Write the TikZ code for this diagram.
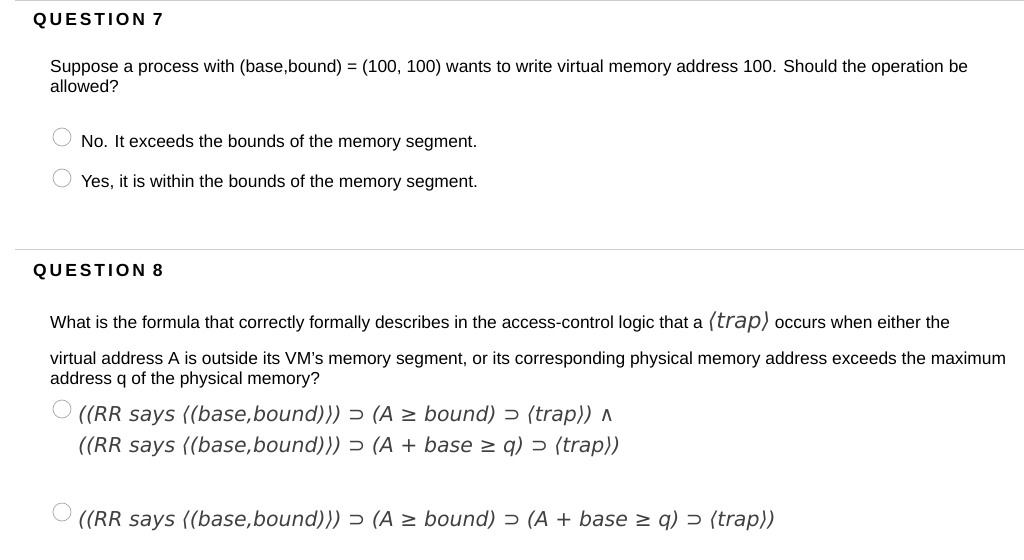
\documentclass[tikz,border=0pt]{standalone}
\usepackage{fontspec}
\setmainfont{Liberation Sans}
\newfontfamily\fml{DejaVu Sans}
\begin{document}
\begin{tikzpicture}[x=1pt,y=-1pt,
  txt/.style={anchor=base west,inner sep=0pt,font=\fontsize{17.4}{20}\selectfont},
  head/.style={anchor=base west,inner sep=0pt,font=\fontsize{17.5}{20}\selectfont\bfseries},
  frm/.style={anchor=base west,inner sep=0pt,font=\fontsize{20.5}{24}\fml\itshape,text=black!75},
  radio/.style={circle,draw=black!35,fill=white,minimum size=18pt,inner sep=0pt,line width=0.7pt}]
\useasboundingbox (0,0) rectangle (1024,559);
\draw[black!20,line width=1pt] (15,1) -- (1024,1);
\draw[black!20,line width=1pt] (15,249) -- (1024,249);
\node[head] (h7) at (33,26) {Q\,U\,E\,S\,T\,I\,O\,N\, 7};
\node[txt] (p1) at (50,73) {Suppose a process with (base,bound) = (100, 100) wants to write virtual memory address 100. Should the operation be};
\node[txt] (p2) at (50,93) {allowed?};
\node[radio] (r1) at (62,137) {};
\node[txt] (o1) at (81,147) {No. It exceeds the bounds of the memory segment.};
\node[radio] (r2) at (62,178) {};
\node[txt] (o2) at (81,187) {Yes, it is within the bounds of the memory segment.};
\node[head] (h8) at (33,276) {Q\,U\,E\,S\,T\,I\,O\,N\, 8};
\node[txt] (q1) at (50,328) {What is the formula that correctly formally describes in the access-control logic that a {\fontsize{22}{26}\fml\itshape\color{black!75}⟨trap⟩} occurs when either the};
\node[txt] (q2) at (50,364) {virtual address A is outside its VM's memory segment, or its corresponding physical memory address exceeds the maximum};
\node[txt] (q3) at (50,384) {address q of the physical memory?};
\node[radio] (r3) at (62,409) {};
\node[frm] (f1) at (78,421) {((RR says ⟨(base,bound)⟩) ⊃ (A ≥ bound) ⊃ ⟨trap⟩) ∧};
\node[frm] (f2) at (78,452) {((RR says ⟨(base,bound)⟩) ⊃ (A + base ≥ q) ⊃ ⟨trap⟩)};
\node[radio] (r4) at (62,512) {};
\node[frm] (f3) at (78,526) {((RR says ⟨(base,bound)⟩) ⊃ (A ≥ bound) ⊃ (A + base ≥ q) ⊃ ⟨trap⟩)};
\end{tikzpicture}
\end{document}
